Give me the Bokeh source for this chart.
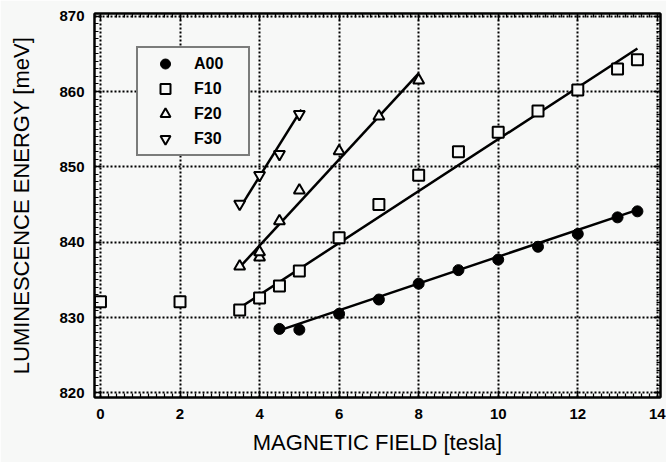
from bokeh.plotting import figure
from bokeh.models import (Range1d, SingleIntervalTicker, LinearAxis, Legend, LegendItem,
                          CustomJSTickFormatter)
from bokeh.embed import file_html
from bokeh.resources import INLINE

# ---- data ----
a00_x = [4.5, 5, 6, 7, 8, 9, 10, 11, 12, 13, 13.5]
a00_y = [828.5, 828.4, 830.5, 832.4, 834.5, 836.3, 837.7, 839.4, 841.1, 843.3, 844.1]

f10_x = [0, 2, 3.5, 4, 4.5, 5, 6, 7, 8, 9, 10, 11, 12, 13, 13.5]
f10_y = [832.1, 832.1, 831.0, 832.6, 834.2, 836.2, 840.6, 845.0, 848.9, 852.0, 854.6, 857.4, 860.2, 863.0, 864.2]

f20_x = [3.5, 4, 4, 4.5, 5, 6, 7, 8]
f20_y = [836.8, 838.0, 838.7, 842.8, 846.9, 852.1, 856.7, 861.5]

f30_x = [3.5, 4, 4.5, 5]
f30_y = [845.1, 848.9, 851.7, 857.0]

# fitted lines (end points)
a00_fit_x = [4.5, 13.5]
a00_fit_y = [828.3, 844.3]
f10_fit_x = [3.5, 13.5]
f10_fit_y = [831.3, 865.7]
f20_fit_x = [3.45, 8.0]
f20_fit_y = [836.4, 862.4]
f30_fit_x = [3.5, 5.05]
f30_fit_y = [844.5, 857.6]

labels = ["A00", "F10", "F20", "F30"]

BG = "#f7f8f7"
FONT = "Liberation Sans"

p = figure(width=666, height=462, output_backend="svg", toolbar_location=None,
           x_range=Range1d(-0.15, 14.08), y_range=Range1d(819.4, 870.35),
           min_border_left=94, min_border_right=6, min_border_top=13, min_border_bottom=65,
           background_fill_color=BG, border_fill_color=BG)

p.outline_line_color = "black"
p.outline_line_width = 2

xt = SingleIntervalTicker(interval=2, num_minor_ticks=10)
yt = SingleIntervalTicker(interval=10, num_minor_ticks=10)

def style_axis(ax, ticker, show_labels):
    ax.ticker = ticker
    ax.major_tick_in = 7
    ax.major_tick_out = 0
    ax.minor_tick_in = 4
    ax.minor_tick_out = 0
    ax.major_tick_line_width = 1.5
    ax.minor_tick_line_width = 1.2
    ax.axis_line_color = "black"
    ax.axis_line_width = 2
    if show_labels:
        ax.major_label_text_font = FONT
        ax.major_label_text_font_size = "15px"
        ax.major_label_text_font_style = "bold"
        ax.major_label_text_color = "black"
    else:
        ax.formatter = CustomJSTickFormatter(code="return ''")
        ax.major_label_standoff = 0

style_axis(p.xaxis[0], xt, True)
style_axis(p.yaxis[0], yt, True)
p.xaxis[0].major_label_standoff = 11
p.yaxis[0].major_label_standoff = 10

p.xaxis.axis_label = "MAGNETIC FIELD [tesla]"
p.yaxis.axis_label = "LUMINESCENCE ENERGY [meV]"
for ax in (p.xaxis[0], p.yaxis[0]):
    ax.axis_label_text_font = FONT
    ax.axis_label_text_font_style = "normal"
    ax.axis_label_text_color = "black"
p.xaxis[0].axis_label_text_font_size = "22px"
p.yaxis[0].axis_label_text_font_size = "22px"
p.xaxis[0].axis_label_standoff = 8
p.yaxis[0].axis_label_standoff = 22

top_ax = LinearAxis()
right_ax = LinearAxis()
style_axis(top_ax, SingleIntervalTicker(interval=2, num_minor_ticks=10), False)
style_axis(right_ax, SingleIntervalTicker(interval=10, num_minor_ticks=10), False)
p.add_layout(top_ax, "above")
p.add_layout(right_ax, "right")

p.xgrid.ticker = xt
p.ygrid.ticker = yt
for g in (p.xgrid[0], p.ygrid[0]):
    g.grid_line_color = "black"
    g.grid_line_width = 2
    g.grid_line_dash = "2 2"
    g.grid_line_alpha = 1.0

# fit lines
for fx, fy in ((a00_fit_x, a00_fit_y), (f10_fit_x, f10_fit_y),
               (f20_fit_x, f20_fit_y), (f30_fit_x, f30_fit_y)):
    p.line(fx, fy, line_color="black", line_width=2.5)

r_a00 = p.scatter(a00_x, a00_y, marker="circle", size=11, fill_color="black", line_color="black")
r_f10 = p.scatter(f10_x, f10_y, marker="square", size=11, fill_color=BG, line_color="black", line_width=2)
r_f20 = p.scatter(f20_x, f20_y, marker="triangle", size=11, fill_color=BG, line_color="black", line_width=2)
r_f30 = p.scatter(f30_x, f30_y, marker="inverted_triangle", size=11, fill_color=BG, line_color="black", line_width=2)

legend = Legend(items=[LegendItem(label=l, renderers=[r]) for l, r in
                       zip(labels, [r_a00, r_f10, r_f20, r_f30])],
                location=(42, 241), margin=0, padding=3, spacing=0,
                glyph_width=48, glyph_height=25, label_height=25, label_width=51,
                label_standoff=5,
                label_text_font=FONT, label_text_font_size="16px",
                label_text_font_style="bold",
                label_text_color="black",
                border_line_color="black", border_line_width=2,
                background_fill_color=BG, background_fill_alpha=1.0)
p.add_layout(legend, "center")

open("out.html", "w").write(file_html(p, INLINE))
